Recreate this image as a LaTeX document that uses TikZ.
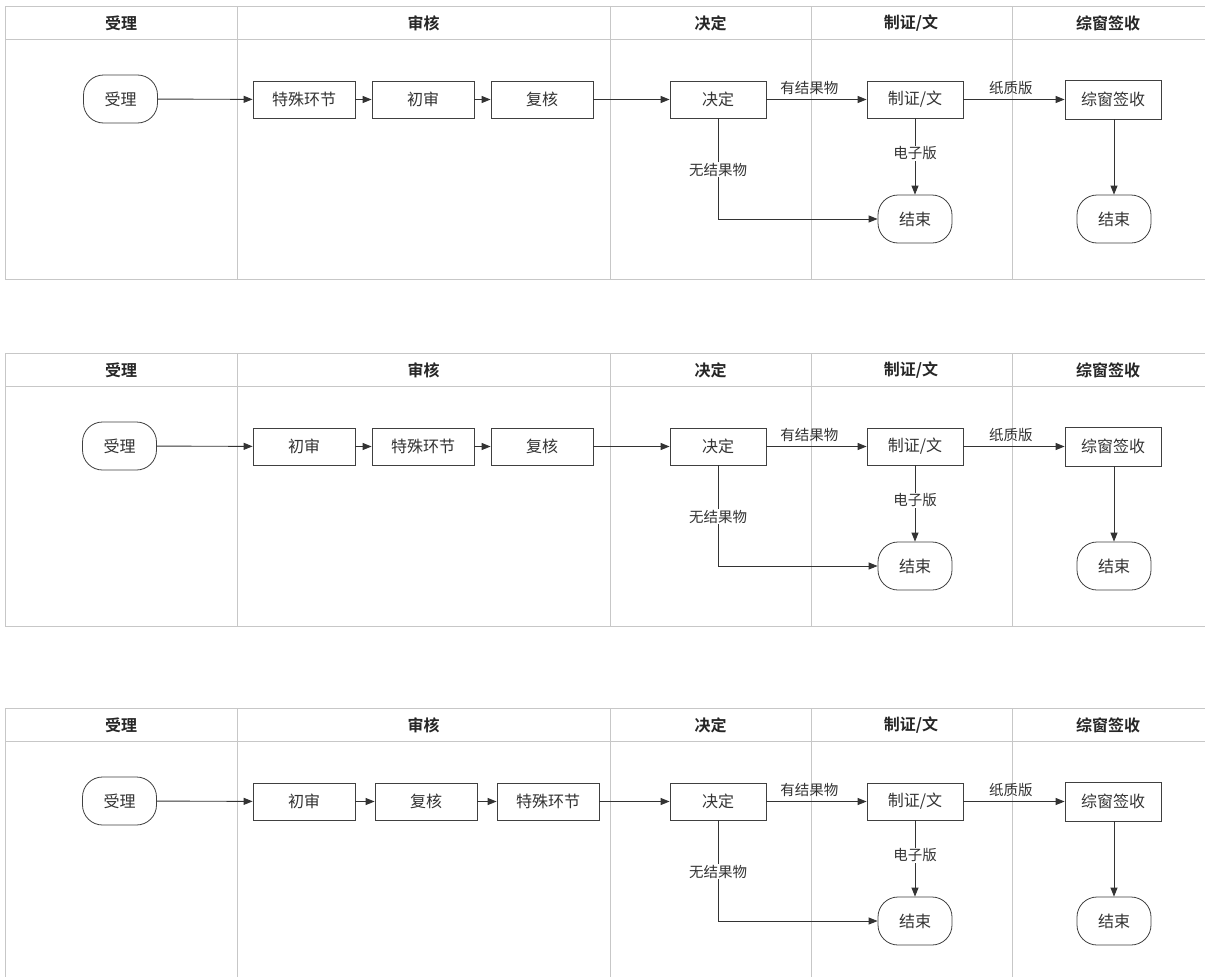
\documentclass[tikz,border=0pt]{standalone}
\usepackage{fontspec}
\setmainfont{Noto Sans CJK SC}[BoldFont={Noto Sans CJK SC Bold}]
\usetikzlibrary{arrows.meta}
\begin{document}
\begin{tikzpicture}[x=1pt,y=-1pt,
  lane/.style={draw=black!22, line width=1pt},
  hdr/.style={font=\fontsize{16}{16}\selectfont\bfseries, text=black!85, inner sep=0pt},
  box/.style={draw=black!75, line width=0.8pt, minimum width=102pt, minimum height=37pt, inner sep=0pt, font=\fontsize{16}{16}\selectfont, text=black!80},
  term/.style={draw=black!75, line width=0.8pt, rounded corners=20pt, minimum width=74pt, minimum height=48pt, inner sep=0pt, font=\fontsize{16}{16}\selectfont, text=black!80},
  arr/.style={draw=black!80, line width=0.9pt, -{Triangle[length=9pt,width=7pt]}},
  lbl/.style={font=\fontsize{14.5}{14.5}\selectfont, text=black!80, inner sep=1pt}
]
\useasboundingbox (0,0) rectangle (1205,977);
\fill[white] (0,0) rectangle (1205,977);
\foreach \p/\oy/\ax/\bt/\ct/\dt/\cx/\dx in {1/0/120.5/特殊环节/初审/复核/423/542, 2/347/119.5/初审/特殊环节/复核/423/542, 3/702/119.5/初审/复核/特殊环节/426/548}{
  % lanes
  \draw[lane] (1205,{6+\oy}) -- (5,{6+\oy}) -- (5,{279+\oy}) -- (1205,{279+\oy});
  \draw[lane] (5,{39+\oy}) -- (1205,{39+\oy});
  \foreach \lx in {237,610,811,1012}{
    \draw[lane] (\lx,{6+\oy}) -- (\lx,{279+\oy});
  }
  \node[hdr] (h1\p) at (121,{23+\oy}) {受理};
  \node[hdr] (h2\p) at (423.5,{23+\oy}) {审核};
  \node[hdr] (h3\p) at (710.5,{23+\oy}) {决定};
  \node[hdr] (h4\p) at (911,{23+\oy}) {制证/文};
  \node[hdr] (h5\p) at (1108,{23+\oy}) {综窗签收};
  % nodes
  \node[term] (a\p) at (\ax,{99+\oy}) {受理};
  \node[box] (b\p) at (304,{99.5+\oy}) {\bt};
  \node[box] (c\p) at (\cx,{99.5+\oy}) {\ct};
  \node[box] (d\p) at (\dx,{99.5+\oy}) {\dt};
  \node[box, minimum width=96pt] (e\p) at (718,{99.5+\oy}) {决定};
  \node[box, minimum width=96pt] (f\p) at (915,{99.5+\oy}) {制证/文};
  \node[box, minimum width=96pt, minimum height=39pt] (g\p) at (1113,{99.5+\oy}) {综窗签收};
  \node[term] (x\p) at (915,{219+\oy}) {结束};
  \node[term] (y\p) at (1114,{219+\oy}) {结束};
  % connectors
  \draw[arr] (a\p) -- (b\p);
  \draw[arr] (b\p) -- (c\p);
  \draw[arr] (c\p) -- (d\p);
  \draw[arr] (d\p) -- (e\p);
  \draw[arr] (e\p) -- node[lbl, pos=0.43, above, yshift=3pt] (l1\p) {有结果物} (f\p);
  \draw[arr] (f\p) -- node[lbl, pos=0.47, above, yshift=3pt] (l2\p) {纸质版} (g\p);
  \draw[arr] (f\p) -- node[lbl, pos=0.46, fill=white] (l3\p) {电子版} (x\p);
  \draw[arr] (e\p) |- node[lbl, pos=0.255, fill=white] (l4\p) {无结果物} (x\p);
  \draw[arr] (g\p.south -| y\p.north) -- (y\p);
}
\end{tikzpicture}
\end{document}
